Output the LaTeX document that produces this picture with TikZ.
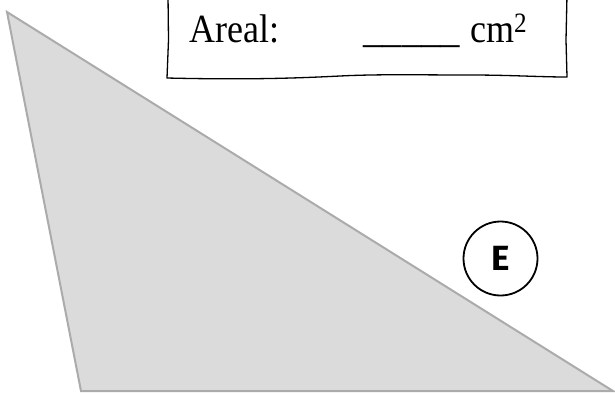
\documentclass[tikz,border=0pt]{standalone}
\usepackage{fontspec}
\setmainfont{Liberation Serif}
\newfontfamily\markfont{Fira Sans}
\usetikzlibrary{positioning}

\tikzset{
  arealtext/.style={anchor=base west, inner sep=0pt, font=\fontsize{40}{44}\selectfont},
  markcircle/.style={draw, circle, line width=1.8pt, minimum size=74pt, inner sep=0pt, font=\markfont\bfseries\fontsize{35}{38}\selectfont}
}

\begin{document}
\begin{tikzpicture}[x=1pt,y=-1pt]
\useasboundingbox (0,0) rectangle (615,392);

% triangle
\draw[line width=2pt, draw=black!33, fill=black!14] (7,12) -- (81,391) -- (613,391) -- cycle;

% answer box
\draw[line width=1.3pt, line join=round] (168,-5) -- (168.5,40) -- (167,78)
  .. controls (250,80) and (300,78) .. (340,76)
  .. controls (380,74) and (420,75) .. (470,75)
  .. controls (510,75) and (540,77) .. (567,77)
  -- (566,40) -- (567,-5);

\node[arealtext] (areal) at (189,42) {\scalebox{0.9}[1]{Areal:}};
\node[arealtext] (blank) at (363,42) {\scalebox{0.97}[1]{\_\_\_\_\_}};
\node[arealtext] (unit) at (470,42) {\scalebox{0.9}[1]{cm\textsuperscript{2}}};

% mark
\node[markcircle] (mark) at (500.5,258.5) {E};
\end{tikzpicture}
\end{document}
